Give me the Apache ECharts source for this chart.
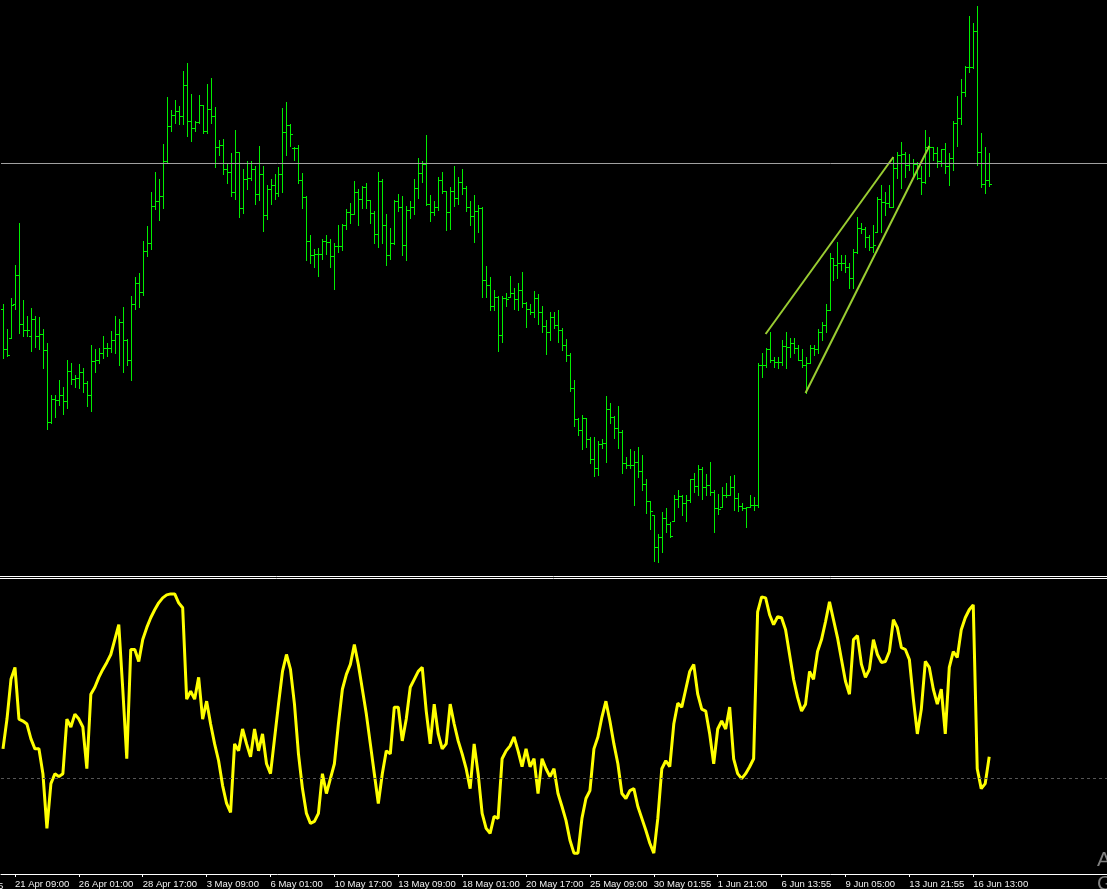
<!DOCTYPE html>
<html>
<head>
<meta charset="utf-8">
<script src="https://cdn.jsdelivr.net/npm/echarts@6/dist/echarts.min.js"></script>
<style>
html,body{margin:0;padding:0;background:#000;}
#chart{width:1107px;height:889px;}
</style>
</head>
<body>
<div id="chart"></div>
<script>
// Price bars (arbitrary price points)
const opens = [291,251,262,296,325,276,270,264,281,264,
266,250,178,201,200,205,199,229,221,222,
228,217,205,239,240,247,252,252,260,266,
278,260,240,296,317,308,349,357,394,399,
404,439,474,485,489,484,515,479,472,478,
495,469,491,484,453,455,431,428,408,448,
392,421,422,431,406,426,385,411,415,407,
426,468,475,452,452,420,403,359,345,346,
346,359,358,344,354,354,375,388,386,408,
401,413,400,387,366,419,375,345,357,399,
393,355,390,393,412,427,436,396,388,393,
420,409,388,409,402,418,412,393,384,389,
392,320,315,294,303,265,302,303,307,301,
310,297,291,288,302,288,274,268,283,275,
270,255,245,212,181,170,182,161,141,132,
156,157,191,183,172,168,137,135,135,138,
129,116,99,85,53,63,82,76,79,101,
104,97,100,121,114,131,113,115,108,92,
93,105,105,113,102,94,92,93,95,95,
235,235,251,240,238,238,254,253,257,252,
240,235,237,252,251,268,275,290,342,335,
337,337,333,322,348,372,371,363,353,368,
401,398,397,393,432,445,446,435,437,436,
422,418,453,453,447,439,451,434,442,477,
482,508,533,533,569,448,416,420];
const highs = [296,271,302,335,377,300,284,292,284,283,
271,257,205,205,220,213,240,237,225,236,
232,219,255,251,252,264,257,269,284,281,
293,261,304,323,327,359,374,408,428,421,
456,503,490,500,494,529,537,506,479,505,
495,516,522,493,460,461,436,447,470,448,
431,439,439,434,454,434,415,421,426,433,
492,498,476,453,455,427,404,365,351,352,
361,365,361,357,375,376,391,397,419,411,
414,417,400,389,428,421,386,372,400,406,
404,394,399,421,442,439,465,405,399,423,
428,409,413,434,423,431,414,399,405,395,
393,334,323,310,304,304,307,324,312,317,
328,298,296,309,306,294,280,288,288,290,
272,261,247,220,182,185,182,163,163,159,
161,204,197,184,194,170,143,151,149,153,
145,121,99,85,66,88,92,78,105,110,
105,105,121,127,135,133,126,138,110,106,
113,117,124,125,107,97,93,105,103,237,
247,252,268,243,243,260,268,262,262,255,
251,243,255,255,271,278,296,347,342,358,
345,345,337,351,383,377,373,365,375,403,
415,408,415,443,448,458,448,446,441,438,
434,470,463,453,453,451,457,447,479,504,
521,534,584,577,594,467,453,447];
const lows = [242,244,262,291,267,264,264,249,253,251,
232,171,177,183,195,186,192,216,213,212,
208,194,189,228,237,242,244,248,247,235,
228,235,220,291,293,305,344,351,391,380,
392,438,469,477,476,476,464,459,469,477,
467,467,477,433,445,426,417,404,401,383,
387,411,420,396,400,369,381,396,401,404,
408,445,454,440,417,392,340,337,333,324,
341,346,333,311,348,350,371,377,386,375,
392,392,377,357,353,357,335,341,356,389,
345,340,382,386,402,418,395,379,385,390,
407,370,371,394,396,406,389,375,358,368,
303,303,290,290,249,258,294,303,291,290,
293,273,286,283,276,268,246,260,272,258,
250,239,209,174,165,151,153,137,124,125,
152,138,177,162,152,127,132,132,95,123,
110,87,71,39,38,48,68,63,79,93,
85,79,98,108,105,101,105,105,68,86,
93,103,105,90,89,90,73,93,90,93,
223,233,238,233,232,235,232,243,247,240,
233,207,237,245,247,260,268,290,320,322,
330,328,312,312,347,367,353,350,348,368,
368,385,393,393,422,412,423,430,425,421,
406,417,424,440,433,434,427,415,430,454,
476,504,528,532,435,413,407,414];
const closes = [251,245,295,325,276,270,270,281,264,266,
250,178,201,200,205,199,229,221,222,228,
217,205,239,240,247,252,252,260,266,278,
260,240,296,317,308,349,357,394,399,404,
439,474,485,489,484,515,479,472,478,495,
469,491,484,453,455,431,428,408,448,392,
421,422,431,406,426,385,411,415,407,426,
468,475,466,452,420,403,359,345,346,346,
359,358,344,354,354,375,388,386,408,401,
413,400,387,366,419,375,345,357,399,393,
355,390,393,412,427,436,396,388,393,420,
409,388,409,402,418,412,393,384,389,392,
320,315,294,303,265,302,301,307,301,310,
297,291,288,302,288,274,268,283,275,270,
255,245,212,181,170,182,161,141,132,156,
157,191,183,172,168,137,135,135,138,129,
116,99,89,53,63,82,76,64,101,104,
97,100,121,114,131,113,115,108,92,91,
105,105,113,102,94,92,93,95,95,235,
235,251,240,238,238,254,253,257,252,240,
235,237,252,251,268,275,290,342,335,337,
337,333,322,348,372,371,363,353,355,401,
398,397,393,432,445,446,435,437,436,422,
418,453,453,447,439,451,434,442,477,482,
508,533,533,569,448,416,420,416];
// Oscillator in the lower window
const oscillator = [126,156,196,208,156,154,151,136,126,126,
101,46,91,101,98,101,156,148,161,156,
148,106,181,188,198,206,213,221,236,251,
186,116,226,226,214,236,248,258,266,273,
278,281,282,282,273,268,176,184,176,198,
156,174,151,131,114,89,71,62,131,124,
146,131,118,146,124,141,111,101,136,171,
204,221,206,171,121,86,61,51,53,61,
101,81,96,111,151,186,201,211,231,211,
186,161,131,101,71,101,124,121,168,168,
134,156,188,196,204,208,164,131,171,141,
126,131,171,151,134,121,106,86,131,101,
61,46,41,58,56,116,124,129,138,124,
108,126,108,116,81,116,106,98,106,81,
68,54,34,21,21,56,76,84,126,138,
158,174,154,131,111,81,76,84,86,68,
56,44,31,21,56,106,114,108,151,172,
168,186,204,211,181,166,164,141,111,146,
154,146,168,116,101,96,101,108,116,264,
279,278,261,251,259,258,246,221,196,178,
164,171,204,196,224,236,254,274,256,238,
216,194,181,236,240,211,198,206,236,221,
213,214,224,256,248,228,226,216,176,141,
166,214,208,186,171,186,141,208,224,218,
246,258,266,271,106,86,91,118];
const oscLevel = 96;
const priceLine = 437;
// Channel trendlines: [bar index, price]
const channelUpper = [[191,266],[223,443]];
const channelLower = [[201,207],[232,454]];
// Time axis
const tickBars = [3,19,35,51,67,83,99,115,131,147,163,179,195,211,227,243];
const tickLabels = ['21 Apr 09:00','26 Apr 01:00','28 Apr 17:00','3 May 09:00','6 May 01:00','10 May 17:00','13 May 09:00','18 May 01:00','20 May 17:00','25 May 09:00','30 May 01:55','1 Jun 21:00','6 Jun 13:55','9 Jun 05:00','13 Jun 21:55','16 Jun 13:00'];

const slotCount = 277;   // 248 bars plus empty space on the right
const categories = [];
for (let s = 0; s < slotCount; s++) categories.push(String(s));
const labelMap = {};
tickBars.forEach((b, k) => { labelMap[b] = tickLabels[k]; });
const isTick = (idx) => labelMap[idx] !== undefined;

const ohlc = opens.map((o, i) => [i, o, highs[i], lows[i], closes[i]]);

const BAR = '#00ee00';
function renderBar(params, api) {
  const s = api.value(0);
  const x = Math.round(api.coord([s, 0])[0]) + 0.5;
  const yo = Math.round(api.coord([s, api.value(1)])[1]) + 0.5;
  const yh = Math.round(api.coord([s, api.value(2)])[1]);
  const yl = Math.round(api.coord([s, api.value(3)])[1]) + 1;
  const yc = Math.round(api.coord([s, api.value(4)])[1]) + 0.5;
  const st = { stroke: BAR, lineWidth: 1 };
  return {
    type: 'group',
    children: [
      { type: 'line', shape: { x1: x, y1: yh, x2: x, y2: yl }, style: st },
      { type: 'line', shape: { x1: x - 2.5, y1: yo, x2: x, y2: yo }, style: st },
      { type: 'line', shape: { x1: x, y1: yc, x2: x + 2.5, y2: yc }, style: st }
    ]
  };
}

const chart = echarts.init(document.getElementById('chart'), null, { renderer: 'canvas' });
chart.setOption({
  backgroundColor: '#000000',
  animation: false,
  grid: [
    { left: 1, width: 1108, top: 0, height: 575 },
    { left: 1, width: 1108, top: 579, height: 298 }
  ],
  xAxis: [
    { type: 'category', gridIndex: 0, data: categories, boundaryGap: true,
      axisLine: { show: false }, axisTick: { show: false }, axisLabel: { show: false }, splitLine: { show: false } },
    { type: 'category', gridIndex: 1, data: categories, boundaryGap: true,
      axisLine: { show: true, lineStyle: { color: '#ffffff', width: 1 } },
      axisTick: { show: true, alignWithLabel: true, interval: (idx) => isTick(idx), length: 3, lineStyle: { color: '#ffffff' } },
      axisLabel: { show: true, interval: (idx) => isTick(idx), formatter: (v, idx) => labelMap[idx] || '',
        align: 'left', verticalAlign: 'top', margin: 4, color: '#f0f0f0',
        fontFamily: 'Liberation Sans, Arial, sans-serif', fontSize: 9.5 },
      splitLine: { show: false } }
  ],
  yAxis: [
    { type: 'value', gridIndex: 0, min: 25, max: 600, show: false, splitLine: { show: false } },
    { type: 'value', gridIndex: 1, min: -1, max: 297, show: false, splitLine: { show: false } }
  ],
  series: [
    { type: 'custom', name: 'bars', xAxisIndex: 0, yAxisIndex: 0, data: ohlc,
      renderItem: renderBar, encode: { x: 0, y: [1, 2, 3, 4] }, z: 3, clip: true },
    { type: 'line', name: 'upper', xAxisIndex: 0, yAxisIndex: 0, data: channelUpper,
      symbol: 'none', lineStyle: { color: '#9acd32', width: 2 }, z: 4,
      markLine: { silent: true, symbol: 'none', label: { show: false },
        lineStyle: { color: '#a0a0a0', width: 1, type: 'solid' }, data: [{ yAxis: priceLine }] } },
    { type: 'line', name: 'lower', xAxisIndex: 0, yAxisIndex: 0, data: channelLower,
      symbol: 'none', lineStyle: { color: '#9acd32', width: 2 }, z: 4 },
    { type: 'line', name: 'osc', xAxisIndex: 1, yAxisIndex: 1, data: oscillator,
      symbol: 'none', lineStyle: { color: '#ffff00', width: 3 }, z: 4,
      markLine: { silent: true, symbol: 'none', label: { show: false },
        lineStyle: { color: '#555555', width: 1, type: [3, 3] }, data: [{ yAxis: oscLevel }] } }
  ],
  graphic: [
    { type: 'line', shape: { x1: 0, y1: 576.5, x2: 1107, y2: 576.5 }, style: { stroke: '#ffffff', lineWidth: 1 }, z: 10 },
    { type: 'line', shape: { x1: 0, y1: 578.5, x2: 1107, y2: 578.5 }, style: { stroke: '#ffffff', lineWidth: 1 }, z: 10 },
    { type: 'text', left: -2, top: 881, style: { text: '5', fill: '#f0f0f0', font: '9.5px Liberation Sans, Arial, sans-serif' }, z: 10 },
    { type: 'text', left: 1097, top: 850, style: { text: 'A', fill: '#808080', font: '21px Liberation Sans, Arial, sans-serif' }, z: 10 },
    { type: 'text', left: 1097, top: 874, style: { text: 'G', fill: '#808080', font: '21px Liberation Sans, Arial, sans-serif' }, z: 10 }
  ]
});
</script>
</body>
</html>
